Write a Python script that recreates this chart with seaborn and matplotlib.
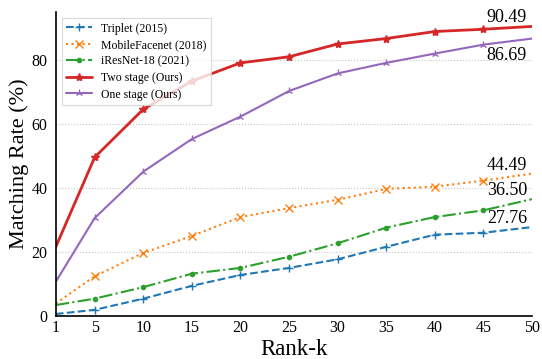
import matplotlib
matplotlib.use("Agg")
import matplotlib.pyplot as plt
import seaborn as sns

rank_k = [1, 5, 10, 15, 20, 25, 30, 35, 40, 45, 50]

triplet = [0.6, 1.9, 5.4, 9.4, 12.8, 15.0, 17.7, 21.6, 25.4, 26.0, 27.76]
mobilefacenet = [3.9, 12.4, 19.7, 25.0, 30.9, 33.7, 36.3, 39.7, 40.4, 42.3, 44.49]
iresnet18 = [3.4, 5.4, 9.0, 13.2, 15.0, 18.5, 22.7, 27.6, 30.9, 33.0, 36.50]
two_stage = [21.6, 49.6, 64.6, 73.4, 79.1, 81.0, 85.0, 86.7, 88.9, 89.6, 90.49]
one_stage = [10.7, 30.6, 45.1, 55.3, 62.3, 70.3, 75.8, 79.1, 82.0, 84.8, 86.69]

labels = ["Triplet (2015)", "MobileFacenet (2018)", "iResNet-18 (2021)",
          "Two stage (Ours)", "One stage (Ours)"]

sns.set_theme(style="white")
plt.rcParams["font.family"] = ["Liberation Serif", "DejaVu Serif"]
plt.rcParams["text.color"] = "black"
plt.rcParams["axes.labelcolor"] = "black"
plt.rcParams["xtick.color"] = "black"
plt.rcParams["ytick.color"] = "black"

fig = plt.figure(figsize=(5.42, 3.59), dpi=100)
ax = fig.add_axes([0.103, 0.12, 0.8785, 0.8466])

styles = [
    (triplet, "#1f77b4", "+", "--", 1.5, 6),
    (mobilefacenet, "#ff7f0e", "x", ":", 1.5, 6),
    (iresnet18, "#2ca02c", ".", "-.", 1.5, 6),
    (two_stage, "#d62728", "*", "-", 2.0, 6),
    (one_stage, "#9467bd", "2", "-", 1.5, 6),
]
for (vals, col, mk, ls, lw, ms), lab in zip(styles, labels):
    sns.lineplot(x=rank_k, y=vals, ax=ax, color=col, marker=mk, linestyle=ls,
                 linewidth=lw, markersize=ms, markeredgewidth=1.0,
                 markeredgecolor=col, markerfacecolor=col,
                 markevery=slice(1, -1), label=lab)

# end-point values
ax.text(49.5, 90.49, "90.49", ha="right", va="bottom", fontsize=13)
ax.text(49.5, 84.2, "86.69", ha="right", va="top", fontsize=13)
ax.text(49.5, 44.49, "44.49", ha="right", va="bottom", fontsize=13)
ax.text(49.5, 36.5, "36.50", ha="right", va="bottom", fontsize=13)
ax.text(49.5, 27.76, "27.76", ha="right", va="bottom", fontsize=13)

ax.set_xlim(1, 50)
ax.set_ylim(0, 95)
ax.set_xticks(rank_k)
ax.set_yticks([0, 20, 40, 60, 80])
ax.tick_params(axis="x", direction="in", length=4, width=1, labelsize=11.5, pad=3)
ax.tick_params(axis="y", direction="out", length=4, width=1, labelsize=11.5, pad=2)
ax.yaxis.grid(True, linestyle=":", color="#c8c8c8", linewidth=0.8)
ax.xaxis.grid(False)

for side in ["top", "right"]:
    ax.spines[side].set_visible(False)
for side in ["left", "bottom"]:
    ax.spines[side].set_color("black")
    ax.spines[side].set_linewidth(1.2)

ax.set_xlabel("Rank-k", fontsize=16.5, labelpad=2)
ax.set_ylabel("Matching Rate (%)", fontsize=16, labelpad=2)

leg = ax.legend(loc="upper left", fontsize=8.5, frameon=True, fancybox=False,
                edgecolor="#d0d0d0", handlelength=2.2, handletextpad=0.7,
                labelspacing=0.38, borderaxespad=0.5)
leg.get_frame().set_linewidth(0.8)

fig.savefig("out.png", dpi=100)
